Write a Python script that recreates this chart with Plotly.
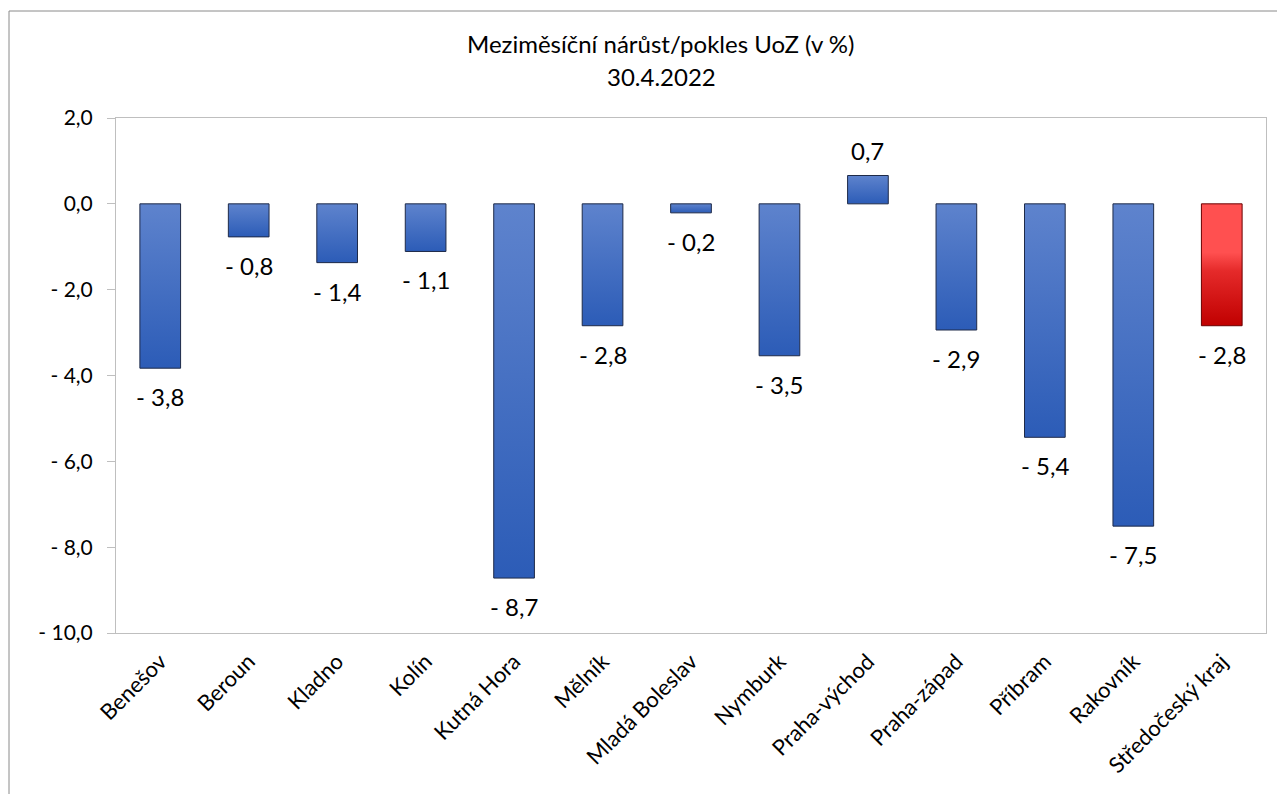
import plotly.graph_objects as go

# ---- data ----
categories = ["Benešov", "Beroun", "Kladno", "Kolín", "Kutná Hora", "Mělník",
              "Mladá Boleslav", "Nymburk", "Praha-východ", "Praha-západ",
              "Příbram", "Rakovník", "Středočeský kraj"]
values = [-3.83, -0.77, -1.37, -1.11, -8.72, -2.84, -0.21, -3.54, 0.66,
          -2.94, -5.44, -7.51, -2.84]
is_total = [False] * 12 + [True]
y_ticks = [-10, -8, -6, -4, -2, 0, 2]

title_line1 = "Meziměsíční nárůst/pokles UoZ (v %)"
title_line2 = "30.4.2022"

FONT = "Lato, 'Open Sans', sans-serif"
BLUE_SCALE = [[0, "#2C5CB7"], [1, "#5E83CD"]]
RED_SCALE = [[0, "#C00000"], [0.45, "#E52A2A"], [0.6, "#FF5050"], [1, "#FF5050"]]
HALF_W = 0.23


def fmt(v):
    s = f"{abs(v):.1f}".replace(".", ",")
    return ("- " + s) if round(v, 1) < 0 else s


fig = go.Figure()

# bars drawn as filled rectangles (to get the vertical gradient)
for i, (cat, v, tot) in enumerate(zip(categories, values, is_total)):
    xs = [i - HALF_W, i - HALF_W, i + HALF_W, i + HALF_W, i - HALF_W]
    ys = [0, v, v, 0, 0]
    fig.add_trace(go.Scatter(
        x=xs, y=ys, mode="lines", fill="toself",
        line=dict(color="#6B0000" if tot else "#1E2A48", width=1),
        fillgradient=dict(type="vertical",
                          colorscale=RED_SCALE if tot else BLUE_SCALE),
        hoverinfo="skip", showlegend=False, name=cat,
    ))

# data labels
for i, v in enumerate(values):
    fig.add_annotation(
        x=i, y=v, xref="x", yref="y", text=fmt(v), showarrow=False,
        yanchor="top" if v < 0 else "bottom",
        yshift=-12 if v < 0 else 9,
        font=dict(family=FONT, size=24, color="#000000"),
    )

# chart-area border (extends beyond the visible image like the original)
fig.add_shape(type="rect", xref="paper", yref="paper",
              x0=(9 - 116) / 1150, x1=1.05, y0=-0.4, y1=(633 - 11) / 515,
              line=dict(color="#8A8A8A", width=1), layer="below")

# title
fig.add_annotation(xref="paper", yref="paper", x=(661 - 116) / 1150,
                   y=(633 - 43) / 515, text=title_line1, showarrow=False,
                   xanchor="center", yanchor="middle",
                   font=dict(family=FONT, size=24, color="#000000"))
fig.add_annotation(xref="paper", yref="paper", x=(661 - 116) / 1150,
                   y=(633 - 76) / 515, text=title_line2, showarrow=False,
                   xanchor="center", yanchor="middle",
                   font=dict(family=FONT, size=24, color="#000000"))

n = len(categories)
# the page body adds an 8px offset, so margins are compensated for it
fig.update_layout(
    width=1285, height=794,
    margin=dict(l=108, r=27, t=110, b=169),
    paper_bgcolor="white", plot_bgcolor="white",
    font=dict(family=FONT, size=21, color="#000000"),
    showlegend=False,
    xaxis=dict(
        range=[-0.5, n - 0.5], tickmode="array",
        tickvals=list(range(n)), ticktext=categories, tickangle=-45,
        showgrid=False, zeroline=False, ticks="",
        showline=True, linecolor="#BFBFBF", linewidth=1, mirror=True,
        tickfont=dict(family=FONT, size=22), ticklabelstandoff=6,
    ),
    xaxis2=dict(
        overlaying="x", anchor="free", position=10 / 12,
        range=[-0.5, n - 0.5], tickmode="array",
        tickvals=[k + 0.5 for k in range(n - 1)],
        ticks="outside", ticklen=6, tickcolor="#A6A6A6", tickwidth=1,
        showticklabels=False, showgrid=False, zeroline=False,
        showline=True, linecolor="#A6A6A6", linewidth=1.5,
    ),
    yaxis=dict(
        range=[-10, 2], tickmode="array", tickvals=y_ticks,
        ticktext=[fmt(t) if t != 0 else "0,0" for t in y_ticks],
        showgrid=False, zeroline=False,
        ticks="outside", ticklen=8, tickcolor="#BFBFBF",
        showline=True, linecolor="#BFBFBF", linewidth=1, mirror=True,
        tickfont=dict(family=FONT, size=21), ticklabelstandoff=10,
    ),
)

fig.write_html("out.html")
